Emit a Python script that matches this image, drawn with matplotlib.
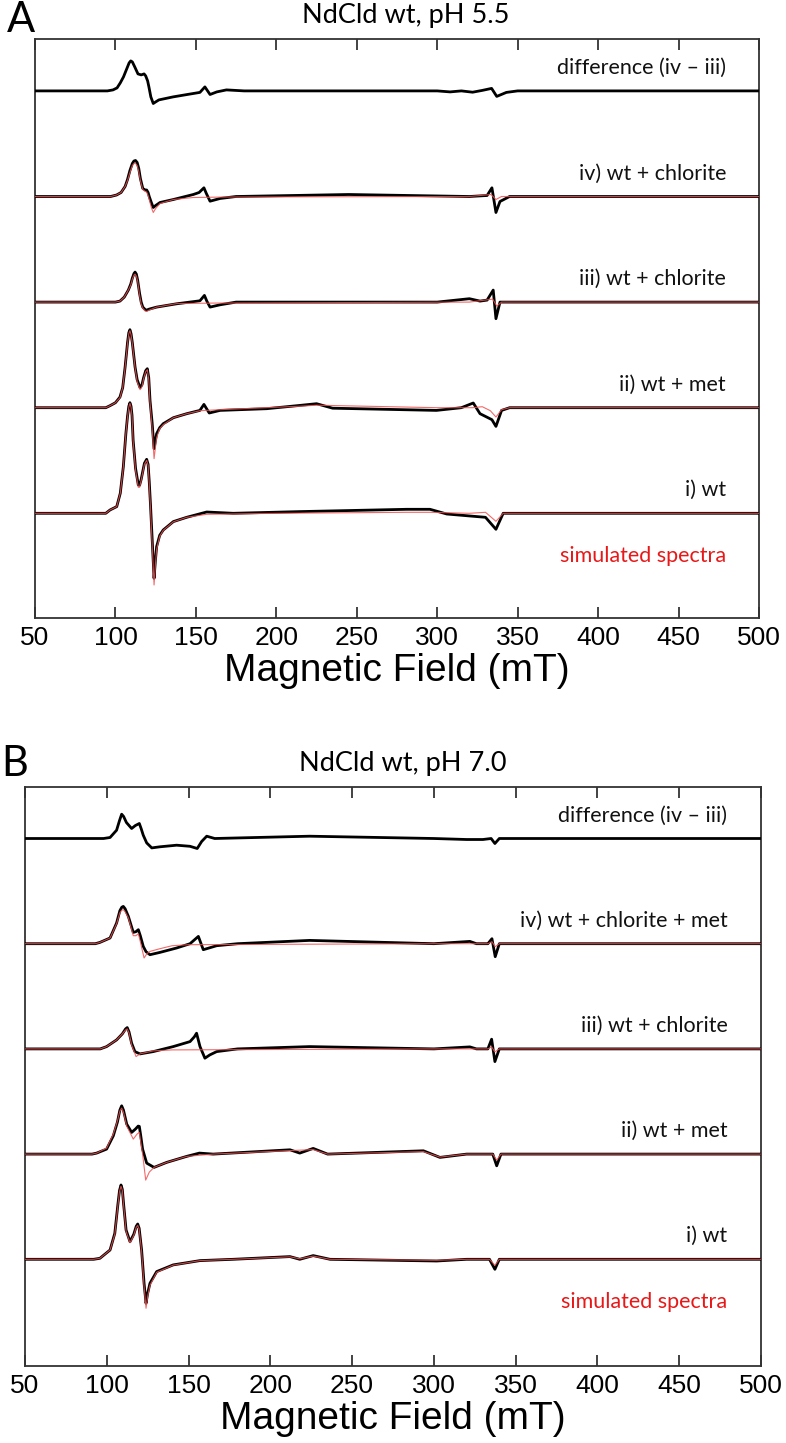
import matplotlib
matplotlib.use("Agg")
import matplotlib.pyplot as plt

# ---------------- data (field in mT, intensity in arbitrary units) ----------------
# Panel A  (pH 5.5)
A_diff_f = [50, 95, 98.5, 101, 103, 105, 107, 108.5, 109.5, 110.5, 112, 114, 116, 117.8, 118.8, 120, 120.8, 122, 123.5, 125, 127, 135.8, 145, 152.5, 155.6, 158.8, 163, 169, 180, 230, 300, 308, 315, 322, 328, 333.8, 337, 343, 350, 400, 500]
A_diff_y = [0, 0, 1, 3, 8, 14, 22, 28, 30, 29, 24, 17, 16, 17, 15, 10, 4, -6, -12.6, -11, -9, -6, -3.5, -1.5, 4, -3.6, -1, 1, 0, 0, 0, -1, 0, -1.3, 0.5, 2.5, -5.5, -1.5, 0, 0, 0]

A_iv_f = [50, 97, 100.7, 103.5, 106, 107.5, 109, 110.5, 111.5, 112.5, 113.5, 114.5, 115.5, 117, 118.5, 119.4, 120.3, 121, 122.3, 123.5, 125, 127.7, 136, 148.4, 152, 155, 156.5, 158.8, 165, 175, 245, 320, 331, 334, 336.5, 339, 345, 500]
A_iv_y = [0, 0, 1.5, 4, 10, 17, 26, 33, 35.5, 36, 34, 28, 18, 8, 6.5, 6.5, 4, 0, -6, -11, -9, -6, -3, 2, 4, 8.7, 3, -4.7, -2, 0, 2, 0, 1, 8.7, -16, -5, 0, 0]
A_iv_sim_f = [50, 97, 100.7, 103.5, 106, 107.5, 109, 110.5, 111.5, 112.5, 113.5, 114.5, 115.5, 117, 118.5, 119.4, 120.3, 121, 122.3, 123.5, 125, 127.7, 136, 148.4, 170, 320, 333.5, 336.5, 340, 500]
A_iv_sim_y = [0, 0, 1.5, 4, 10, 16, 24, 31, 33, 33, 31, 25, 16, 7, 5, 4.5, 1, -3, -11, -16, -12, -7, -3, -1, -0.5, 0, 2, -3, 0, 0]

A_iii_f = [50, 100, 102.8, 105.5, 108, 109.5, 110.5, 111.5, 112.2, 113, 113.8, 115, 116, 117, 118.5, 119.4, 121, 125.6, 138, 152.5, 155.3, 156.8, 158.8, 165, 175, 300, 320, 326.6, 331, 334.8, 336.5, 339, 345, 500]
A_iii_y = [0, 0, 1, 5, 12, 18, 24, 28.5, 30, 28, 22, 8.7, 0, -5, -7.5, -8, -7, -5, -1.7, 1.3, 6.7, 1, -5, -2.7, 0, 0, 3.4, 1, 2, 12, -16.6, 0, 0, 0]
A_iii_sim_f = [50, 100, 102.8, 105.5, 108, 109.5, 110.5, 111.5, 112.2, 113, 113.8, 115, 116, 117, 118.5, 119.4, 121, 125.6, 138, 160, 320, 334.5, 337, 340, 500]
A_iii_sim_y = [0, 0, 1, 5, 12, 17, 23, 27, 28, 26, 21, 7, -2, -6, -9, -9.3, -8, -5, -1.5, -1, 0, 3, -4, 0, 0]

A_ii_f = [50, 94, 96.6, 100, 102.8, 104.5, 106, 107.5, 108.3, 109, 109.7, 110.5, 112.2, 113.5, 115.3, 116.5, 117.5, 118.8, 119.8, 120.7, 121.5, 122.8, 124, 125.6, 127.5, 129.7, 136, 144.3, 152.5, 155, 158.3, 165, 194, 214.7, 225, 235, 299.5, 315, 322.4, 326.6, 330.7, 334, 336.5, 340, 345, 500]
A_ii_y = [0, 0, 2, 5, 10.6, 20, 40.6, 65, 75, 78, 74, 65, 40.6, 28, 20, 23, 30, 37, 39, 30, 7, -15, -41, -26, -20, -16, -10, -6, -2.7, 3.3, -5.3, -2.7, -1, 2.3, 4, -0.5, -2.7, 0, 4.7, -6, -9.3, -12, -18.7, -2.7, 0, 0]
A_ii_sim_f = [50, 94, 96.6, 100, 102.8, 104.5, 106, 107.5, 108.3, 109, 109.7, 110.5, 112.2, 113.5, 115.3, 116.5, 117.5, 118.8, 119.8, 120.7, 121.5, 122.8, 124, 125.6, 127.5, 129.7, 136, 144.3, 152.5, 165, 214.7, 225, 300, 322, 328, 333, 336.5, 340, 345, 500]
A_ii_sim_y = [0, 0, 2, 5, 10, 20, 40, 64, 74, 77, 73, 64, 40, 26, 18, 21, 29, 36, 38, 28, 5, -20, -51, -30, -21, -17, -10, -6, -3, -2, 1.5, 2.5, 0, 0, 1, -3, -9.3, -2, 0, 0]

A_i_f = [50, 94, 96.6, 100.8, 103, 104.9, 106.5, 107.5, 108.3, 109, 109.7, 110.3, 111, 112.5, 114.2, 115, 116, 118, 119.4, 120.3, 121, 121.8, 122.8, 124, 124.8, 125.6, 127.5, 129.7, 136, 144.3, 156.7, 173.2, 214.7, 281, 295.5, 305.9, 320.4, 330, 336.5, 341, 500]
A_i_y = [0, 0, 3.3, 6.7, 20, 46.6, 80, 97, 107, 110.6, 107, 98, 73, 45, 28.3, 28, 34, 50, 54, 49, 32, 8, -25, -65, -48, -33.3, -22, -16.7, -8.3, -4, 1.3, 0, 1.7, 4, 4, -0.7, -2.7, -4, -16, 0, 0]
A_i_sim_f = [50, 94, 96.6, 100.8, 103, 104.9, 106.5, 107.5, 108.3, 109, 109.7, 110.3, 111, 112.5, 114.2, 115, 116, 118, 119.4, 120.3, 121, 121.8, 122.8, 124, 124.8, 125.6, 127.5, 129.7, 136, 144.3, 156.7, 200, 281, 295.5, 320, 330, 336.5, 341, 500]
A_i_sim_y = [0, 0, 3.3, 6.7, 20, 46, 80, 96, 106, 110, 106, 97, 72, 43, 26, 26, 33, 49, 53, 48, 30, 5, -30, -71.7, -52, -36, -23, -17, -8.5, -4, -1, 0, 1, 1, 0, 1, -8, 0, 0]

# Panel B  (pH 7.0)
B_diff_f = [50, 98, 102, 106, 107.8, 109.1, 110.3, 112, 115.2, 117.5, 119.9, 121, 122.3, 124.4, 127.5, 132.5, 142.7, 150.9, 155.3, 158, 161.1, 166, 224, 300, 320, 330, 335, 337.3, 340, 500]
B_diff_y = [0, 0, 1, 8.3, 18, 24.3, 22, 16, 10, 13, 15, 10, 3.3, -4.4, -9.4, -8.3, -6.7, -7.8, -10, -3, 2.3, 0, 2.3, 0, -1, -1, 0, -5, 0, 0]

B_iv_f = [50, 93, 95.8, 102, 106, 108, 109.2, 110.1, 111.2, 113.2, 116.2, 117.8, 119.3, 120.5, 122.3, 124, 126.4, 132.5, 142.7, 150.9, 156, 159, 167.2, 180, 224, 300, 322, 326, 333, 335.5, 337.5, 340, 500]
B_iv_y = [0, 0, 1.3, 5.7, 20.7, 33, 36.5, 37.3, 35, 27.3, 11.3, 12, 14, 8, -2.7, -8, -11, -8.7, -4.3, 0, 7.3, -6, -2, 0, 3.3, 0, 2.3, 0, 0, 5, -13, 0, 0]
B_iv_sim_f = [50, 93, 95.8, 102, 106, 108, 109.2, 110.1, 111.2, 113.2, 116.2, 117.8, 119.3, 120.5, 122.8, 124.5, 126.4, 132.5, 140, 150, 300, 333, 335.5, 337.5, 340, 500]
B_iv_sim_y = [0, 0, 1.3, 5.7, 20, 31, 33.5, 34, 32, 26, 8, 8, 10, 2, -14.3, -10, -7.7, -5, -2, -1, 0, 0, 2, -3, 0, 0]

B_iii_f = [50, 96, 99.9, 106, 109.5, 111.5, 112.5, 113.6, 115.2, 117.2, 120.3, 128.4, 140.6, 150.9, 153.5, 154.9, 157, 160, 163, 167.2, 180, 224, 300, 322, 326, 333, 335.3, 337.3, 340, 500]
B_iii_y = [0, 0, 2.3, 9, 15, 20, 21.3, 17, 5.7, -2.7, -5, -2.7, 2.3, 7.3, 12, 15.7, 2.3, -9.3, -6, -2.7, 0, 2.3, 0, 2, 0, 0, 9.7, -12.7, 0, 0]
B_iii_sim_f = [50, 96, 99.9, 106, 109.5, 111.5, 112.5, 113.6, 115.2, 117.9, 120.3, 128.4, 140, 300, 333, 335.3, 337.3, 340, 500]
B_iii_sim_y = [0, 0, 2.3, 9, 15, 19, 20, 16, 4, -7.7, -5, -2, -1, 0, 0, 2, -3, 0, 0]

B_ii_f = [50, 91, 93.8, 99.9, 104, 106.5, 108, 109.1, 110.2, 112.2, 115.2, 117.5, 119.2, 119.9, 120.8, 121.9, 124.4, 128.9, 136.6, 148.8, 156.6, 165, 212, 218, 226.2, 235, 293.6, 303.7, 320, 336, 338.4, 341, 500]
B_ii_y = [0, 0, 1, 5, 18.3, 32, 44, 48.3, 44, 30, 21.7, 25, 28, 27.7, 18, 5, -9, -13.3, -8.3, -2.3, 1, 0, 4.3, 1, 5.7, 0, 3.3, -3.3, 0, 0, -11.7, 0, 0]
B_ii_sim_f = [50, 91, 93.8, 99.9, 104, 106.5, 108, 109.1, 110.2, 112.2, 116.2, 118.5, 119.9, 121.9, 123.8, 126, 128.9, 136.6, 148.8, 165, 212, 226.2, 235, 293.6, 303.7, 320, 336, 338.4, 341, 500]
B_ii_sim_y = [0, 0, 1, 6, 20, 33, 43, 46, 42, 28, 15, 20, 21.7, 0, -26, -18, -13.3, -8.3, -2.3, 0, 3.5, 4.5, 0, 2.5, -3, 0, 0, -6, 0, 0]

B_i_f = [50, 92, 95.8, 102, 104.9, 106.8, 107.8, 108.7, 109.5, 110.3, 111.8, 114.2, 116.5, 118, 118.9, 119.8, 121.3, 122.8, 124, 125, 126.4, 130.5, 140.6, 157, 177.3, 212, 218, 226.2, 236.5, 301.7, 320, 334, 337.3, 340, 500]
B_i_y = [0, 0, 1, 9.3, 26, 55, 69, 74.3, 70, 55, 29.3, 17.6, 25, 33, 35.3, 31, 9.3, -24, -44, -34, -24, -12.3, -5.6, -1.3, 0, 2.7, 0, 3.7, 0, -1.7, 0, 0, -10, 0, 0]
B_i_sim_f = [50, 92, 95.8, 102, 104.9, 106.8, 107.8, 108.7, 109.5, 110.3, 111.8, 114.2, 116.5, 118, 118.9, 119.8, 121.3, 122.8, 124, 125, 126.4, 130.5, 140.6, 157, 177.3, 212, 218, 226.2, 236.5, 301.7, 320, 334, 337.3, 340, 500]
B_i_sim_y = [0, 0, 1, 9.3, 25, 54, 68, 73, 69, 54, 28, 16.5, 24, 32, 34, 30, 8, -27, -49, -37, -26, -13, -5.8, -1.3, 0, 2.5, 0.5, 3.2, 0, -1, 0, 0, -6, 0, 0]

A_labels = ["i) wt", "ii) wt + met", "iii) wt + chlorite", "iv) wt + chlorite", "difference (iv \u2013 iii)"]
B_labels = ["i) wt", "ii) wt + met", "iii) wt + chlorite", "iv) wt + chlorite + met", "difference (iv \u2013 iii)"]
x_ticks = [50, 100, 150, 200, 250, 300, 350, 400, 450, 500]

# ---------------- drawing ----------------
W, H = 786, 1443
fig = plt.figure(figsize=(W / 100, H / 100), dpi=100)

TXT = ["Lato", "DejaVu Sans"]
TICKF = ["Liberation Sans", "DejaVu Sans"]
BLACK = "#000000"
RED = "#f05050"


def px_axes(l, t, r, b):
    return fig.add_axes([l / W, 1 - b / H, (r - l) / W, (b - t) / H])


def panel(ax, exp_sets, sim_sets, labels, spacing, ylim):
    for k, (f, y) in enumerate(exp_sets):
        off = k * spacing
        ax.plot(f, [v + off for v in y], color=BLACK, lw=2.0, zorder=3,
                solid_joinstyle="round", solid_capstyle="round")
    for k, s in enumerate(sim_sets):
        if s is None:
            continue
        f, y = s
        off = k * spacing
        ax.plot(f, [v + off for v in y], color=RED, lw=0.8, alpha=0.85, zorder=4)
    for k, lab in enumerate(labels):
        ax.text(479.5, k * spacing + 23, lab, ha="right", va="center",
                fontsize=15.5, family=TXT, color="#111111")
    ax.text(479.5, -43, "simulated spectra", ha="right", va="center",
            fontsize=15.5, family=TXT, color="#e81818")
    ax.set_xlim(50, 500)
    ax.set_ylim(*ylim)
    ax.set_yticks([])
    ax.set_xticks(x_ticks)
    ax.tick_params(axis="x", direction="in", length=8, width=1.2, top=True,
                   color="#222222", pad=6)
    for lab in ax.get_xticklabels():
        lab.set_family(TICKF)
        lab.set_fontsize(19)
    for sp in ax.spines.values():
        sp.set_linewidth(1.3)
        sp.set_color("#333333")
    ax.set_xlabel("Magnetic Field (mT)", family=TICKF, fontsize=28, labelpad=2)


axA = px_axes(35, 39, 759, 618)
panel(axA,
      [(A_i_f, A_i_y), (A_ii_f, A_ii_y), (A_iii_f, A_iii_y), (A_iv_f, A_iv_y), (A_diff_f, A_diff_y)],
      [(A_i_sim_f, A_i_sim_y), (A_ii_sim_f, A_ii_sim_y), (A_iii_sim_f, A_iii_sim_y), (A_iv_sim_f, A_iv_sim_y), None],
      A_labels, 105.6, (-104.7, 474.3))

axB = px_axes(25, 787, 761, 1366)
panel(axB,
      [(B_i_f, B_i_y), (B_ii_f, B_ii_y), (B_iii_f, B_iii_y), (B_iv_f, B_iv_y), (B_diff_f, B_diff_y)],
      [(B_i_sim_f, B_i_sim_y), (B_ii_sim_f, B_ii_sim_y), (B_iii_sim_f, B_iii_sim_y), (B_iv_sim_f, B_iv_sim_y), None],
      B_labels, 105.2, (-106.7, 472.3))

fig.text(406 / W, 1 - 16 / H, "NdCld wt, pH 5.5", ha="center", va="center", fontsize=19.5, family=TXT)
fig.text(403 / W, 1 - 763 / H, "NdCld wt, pH 7.0", ha="center", va="center", fontsize=19.5, family=TXT)
fig.text(7 / W, 1 - 20 / H, "A", ha="left", va="center", fontsize=30, family=TXT)
fig.text(1 / W, 1 - 764 / H, "B", ha="left", va="center", fontsize=30, family=TXT)

fig.savefig("out.png", dpi=100)
